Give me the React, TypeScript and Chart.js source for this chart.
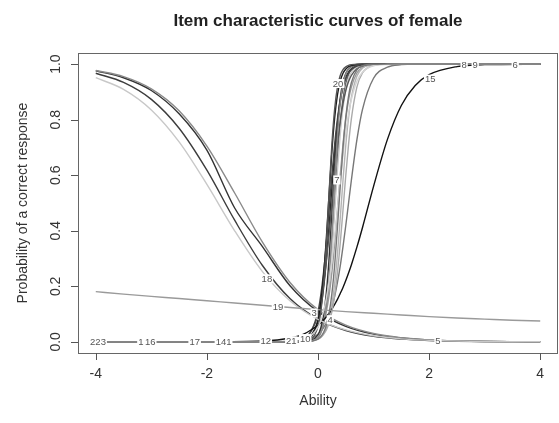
import React, { useEffect, useRef } from "react";
import { Chart, registerables } from "chart.js";

Chart.register(...registerables);

const FONT = '"Liberation Sans", Arial, Helvetica, sans-serif';

// Ability grid for the increasing (steep) items
const XS = [-4, -2, -1, -0.5, -0.25, 0, 0.05, 0.1, 0.15, 0.2, 0.25, 0.3, 0.35, 0.4, 0.45, 0.5, 0.55, 0.6, 0.7, 0.8, 1, 1.25, 1.5, 1.75, 2, 2.5, 3, 4];
// Ability grid for the decreasing / flat items
const XD = [-4, -3.5, -3, -2.5, -2, -1.5, -1, -0.5, 0, 0.5, 1, 1.5, 2, 2.5, 3, 3.5, 4];

const ONE7 = [1, 1, 1, 1, 1, 1, 1];

const item1 = [0, 0, 0, 0.0003, 0.005, 0.074, 0.121, 0.193, 0.293, 0.418, 0.555, 0.684, 0.789, 0.866, 0.918, 0.951, 0.971, 0.983, 0.994, 0.998, 1, ...ONE7];
const item2 = [0, 0, 0, 0, 0.0008, 0.02, 0.037, 0.069, 0.125, 0.214, 0.343, 0.5, 0.657, 0.786, 0.875, 0.931, 0.963, 0.98, 0.9945, 0.9985, 1, ...ONE7];
const item6 = [0, 0, 0, 0.001, 0.0055, 0.027, 0.037, 0.051, 0.069, 0.093, 0.125, 0.164, 0.214, 0.273, 0.343, 0.419, 0.5, 0.581, 0.727, 0.836, 0.949, 0.989, 0.998, 1, 1, 1, 1, 1];
const item7 = [0, 0, 0, 0, 0.0012, 0.024, 0.042, 0.074, 0.128, 0.211, 0.327, 0.47, 0.618, 0.746, 0.843, 0.907, 0.947, 0.97, 0.991, 0.997, 1, ...ONE7];
const item8 = [0, 0, 0, 0.0001, 0.0022, 0.027, 0.043, 0.069, 0.109, 0.168, 0.25, 0.354, 0.475, 0.599, 0.711, 0.802, 0.87, 0.917, 0.968, 0.988, 0.998, ...ONE7];
const item9 = [0, 0, 0, 0, 0.0008, 0.026, 0.05, 0.096, 0.177, 0.302, 0.465, 0.636, 0.779, 0.877, 0.935, 0.966, 0.983, 0.991, 0.998, 1, 1, ...ONE7];
const item10 = [0, 0, 0, 0.0012, 0.011, 0.095, 0.142, 0.206, 0.289, 0.389, 0.5, 0.611, 0.711, 0.794, 0.858, 0.905, 0.937, 0.959, 0.983, 0.993, 0.9988, ...ONE7];
const item11 = [0, 0, 0, 0, 0.0006, 0.0098, 0.017, 0.029, 0.049, 0.082, 0.134, 0.211, 0.316, 0.445, 0.582, 0.707, 0.807, 0.879, 0.956, 0.985, 0.998, ...ONE7];
const item12 = [0, 0, 0, 0.0008, 0.01, 0.109, 0.168, 0.25, 0.354, 0.475, 0.599, 0.711, 0.802, 0.87, 0.917, 0.948, 0.968, 0.98, 0.993, 0.997, 0.9996, ...ONE7];
const item14 = [0, 0, 0, 0, 0.0004, 0.015, 0.031, 0.063, 0.125, 0.231, 0.389, 0.574, 0.741, 0.858, 0.928, 0.964, 0.983, 0.992, 0.998, 1, 1, ...ONE7];
const item15 = [0, 0.0002, 0.003, 0.014, 0.029, 0.06, 0.068, 0.079, 0.09, 0.103, 0.118, 0.135, 0.153, 0.174, 0.196, 0.221, 0.248, 0.277, 0.341, 0.411, 0.56, 0.729, 0.851, 0.923, 0.962, 0.991, 0.998, 1];
const item16 = [0, 0, 0, 0, 0.0008, 0.01, 0.016, 0.027, 0.043, 0.069, 0.109, 0.168, 0.25, 0.354, 0.475, 0.599, 0.711, 0.802, 0.917, 0.968, 0.9955, ...ONE7];
const item17 = [0, 0, 0, 0.0001, 0.003, 0.078, 0.14, 0.237, 0.373, 0.532, 0.686, 0.807, 0.889, 0.939, 0.967, 0.982, 0.991, 0.995, 0.9987, 0.9996, 1, ...ONE7];
const item20 = [0, 0, 0, 0, 0.0014, 0.055, 0.109, 0.206, 0.354, 0.537, 0.711, 0.839, 0.917, 0.959, 0.98, 0.99, 0.9955, 0.998, 1, 1, 1, ...ONE7];
const item21 = [0, 0, 0, 0.001, 0.0074, 0.053, 0.077, 0.111, 0.157, 0.218, 0.293, 0.382, 0.48, 0.579, 0.673, 0.754, 0.821, 0.872, 0.938, 0.971, 0.994, 0.9985, 1, 1, 1, 1, 1, 1];
const item23 = [0, 0, 0, 0, 0.0005, 0.01, 0.019, 0.034, 0.06, 0.103, 0.174, 0.277, 0.411, 0.56, 0.698, 0.808, 0.885, 0.933, 0.979, 0.994, 0.9994, ...ONE7];

const item3 = [0.976, 0.951, 0.905, 0.821, 0.69, 0.482, 0.343, 0.201, 0.109, 0.056, 0.028, 0.014, 0.0067, 0.0033, 0.0016, 0.0008, 0.0004];
const item4 = [0.977, 0.955, 0.911, 0.832, 0.705, 0.536, 0.359, 0.213, 0.116, 0.06, 0.03, 0.015, 0.0072, 0.0035, 0.0017, 0.0008, 0.0004];
const item5 = [0.967, 0.934, 0.873, 0.769, 0.618, 0.438, 0.275, 0.155, 0.082, 0.041, 0.02, 0.01, 0.0049, 0.0024, 0.0012, 0.0006, 0.0003];
const item18 = [0.951, 0.909, 0.835, 0.72, 0.567, 0.4, 0.253, 0.147, 0.081, 0.043, 0.022, 0.011, 0.0059, 0.003, 0.0015, 0.0007, 0.0004];
const item19 = [0.181, 0.172, 0.164, 0.156, 0.148, 0.14, 0.132, 0.124, 0.116, 0.109, 0.103, 0.097, 0.091, 0.086, 0.082, 0.078, 0.075];

// Curve labels as they appear on the plot
const labelText = ["223", "1", "16", "17", "141", "12", "21", "10", "3", "4", "7", "20", "5", "15", "8", "9", "6", "19", "18"];
const labelX = [-3.96, -3.19, -3.02, -2.22, -1.7, -0.94, -0.48, -0.23, -0.07, 0.22, 0.34, 0.36, 2.16, 2.02, 2.63, 2.83, 3.55, -0.72, -0.92];
const labelY = [0, 0, 0, 0, 0, 0.002, 0.004, 0.012, 0.104, 0.08, 0.583, 0.93, 0.005, 0.946, 0.996, 0.996, 0.996, 0.125, 0.227];

const xTicks = [-4, -2, 0, 2, 4];
const yTicks = [0, 0.2, 0.4, 0.6, 0.8, 1];
const yTickLabels = ["0.0", "0.2", "0.4", "0.6", "0.8", "1.0"];

const TITLE = "Item characteristic curves of female";
const XLAB = "Ability";
const YLAB = "Probability of a correct response";

const series = [
  { name: "1", xs: XS, ys: item1, color: "#222222" },
  { name: "2", xs: XS, ys: item2, color: "#666666" },
  { name: "3", xs: XD, ys: item3, color: "#333333" },
  { name: "4", xs: XD, ys: item4, color: "#8a8a8a" },
  { name: "5", xs: XD, ys: item5, color: "#3c3c3c" },
  { name: "6", xs: XS, ys: item6, color: "#777777" },
  { name: "7", xs: XS, ys: item7, color: "#c8c8c8" },
  { name: "8", xs: XS, ys: item8, color: "#999999" },
  { name: "9", xs: XS, ys: item9, color: "#333333" },
  { name: "10", xs: XS, ys: item10, color: "#555555" },
  { name: "11", xs: XS, ys: item11, color: "#b4b4b4" },
  { name: "12", xs: XS, ys: item12, color: "#444444" },
  { name: "14", xs: XS, ys: item14, color: "#888888" },
  { name: "15", xs: XS, ys: item15, color: "#111111" },
  { name: "16", xs: XS, ys: item16, color: "#aaaaaa" },
  { name: "17", xs: XS, ys: item17, color: "#1a1a1a" },
  { name: "18", xs: XD, ys: item18, color: "#c8c8c8" },
  { name: "19", xs: XD, ys: item19, color: "#9a9a9a" },
  { name: "20", xs: XS, ys: item20, color: "#555555" },
  { name: "21", xs: XS, ys: item21, color: "#d4d4d4" },
  { name: "23", xs: XS, ys: item23, color: "#777777" },
];

export default function App() {
  const ref = useRef<HTMLCanvasElement>(null);

  useEffect(() => {
    const canvas = ref.current;
    if (!canvas) return;

    const datasets = series.map((s, i) => ({
      label: s.name,
      data: s.xs.map((x, j) => ({ x, y: s.ys[j] })),
      borderColor: s.color,
      backgroundColor: s.color,
      borderWidth: 1.4,
      pointRadius: 0,
      fill: false,
      cubicInterpolationMode: "monotone" as const,
      order: series.length - i,
    }));

    const deco = {
      id: "deco",
      afterDatasetsDraw(chart: any) {
        const ctx = chart.ctx as CanvasRenderingContext2D;
        const xs = chart.scales.x;
        const ys = chart.scales.y;
        ctx.save();
        ctx.font = `9.5px ${FONT}`;
        ctx.textAlign = "center";
        ctx.textBaseline = "middle";
        for (let i = 0; i < labelText.length; i++) {
          const px = xs.getPixelForValue(labelX[i]);
          const py = ys.getPixelForValue(labelY[i]);
          const w = ctx.measureText(labelText[i]).width + 2;
          ctx.fillStyle = "#ffffff";
          ctx.fillRect(px - w / 2, py - 4.5, w, 9);
          ctx.fillStyle = "#555555";
          ctx.fillText(labelText[i], px, py + 0.5);
        }
        ctx.restore();
      },
      afterDraw(chart: any) {
        const ctx = chart.ctx as CanvasRenderingContext2D;
        const a = chart.chartArea;
        const xs = chart.scales.x;
        const ys = chart.scales.y;
        ctx.save();
        // box
        ctx.strokeStyle = "#666666";
        ctx.lineWidth = 1;
        ctx.strokeRect(Math.round(a.left) + 0.5, Math.round(a.top) + 0.5, Math.round(a.right - a.left) - 1, Math.round(a.bottom - a.top));
        // ticks
        ctx.strokeStyle = "#555555";
        ctx.beginPath();
        for (const v of xTicks) {
          const px = Math.round(xs.getPixelForValue(v)) + 0.5;
          ctx.moveTo(px, a.bottom);
          ctx.lineTo(px, a.bottom + 7);
        }
        for (const v of yTicks) {
          const py = Math.round(ys.getPixelForValue(v)) + 0.5;
          ctx.moveTo(a.left, py);
          ctx.lineTo(a.left - 7, py);
        }
        ctx.stroke();
        // tick labels
        ctx.fillStyle = "#333333";
        ctx.font = `14px ${FONT}`;
        ctx.textAlign = "center";
        ctx.textBaseline = "middle";
        for (const v of xTicks) {
          ctx.fillText(String(v), xs.getPixelForValue(v), a.bottom + 21);
        }
        for (let i = 0; i < yTicks.length; i++) {
          const py = ys.getPixelForValue(yTicks[i]);
          ctx.save();
          ctx.translate(a.left - 22, py);
          ctx.rotate(-Math.PI / 2);
          ctx.fillText(yTickLabels[i], 0, 0);
          ctx.restore();
        }
        // axis titles
        const cx = (a.left + a.right) / 2;
        const cy = (a.top + a.bottom) / 2;
        ctx.fillText(XLAB, cx, a.bottom + 48);
        ctx.save();
        ctx.translate(a.left - 55, cy);
        ctx.rotate(-Math.PI / 2);
        ctx.fillText(YLAB, 0, 0);
        ctx.restore();
        // main title
        ctx.fillStyle = "#222222";
        ctx.font = `bold 17px ${FONT}`;
        ctx.fillText(TITLE, cx, 21);
        ctx.restore();
      },
    };

    const chart = new Chart(canvas, {
      type: "line",
      data: { datasets },
      options: {
        animation: false,
        responsive: false,
        devicePixelRatio: 1,
        layout: { padding: { left: 78, top: 53, right: 1, bottom: 70 } },
        plugins: { legend: { display: false }, tooltip: { enabled: false } },
        events: [],
        scales: {
          x: { type: "linear", min: -4.32, max: 4.32, display: false },
          y: { type: "linear", min: -0.04, max: 1.04, display: false },
        },
      },
      plugins: [deco],
    } as any);

    return () => chart.destroy();
  }, []);

  return (
    <div style={{ position: "absolute", left: 0, top: 0, width: 559, height: 423, background: "#ffffff" }}>
      <canvas ref={ref} width={559} height={423} style={{ display: "block" }} />
    </div>
  );
}
